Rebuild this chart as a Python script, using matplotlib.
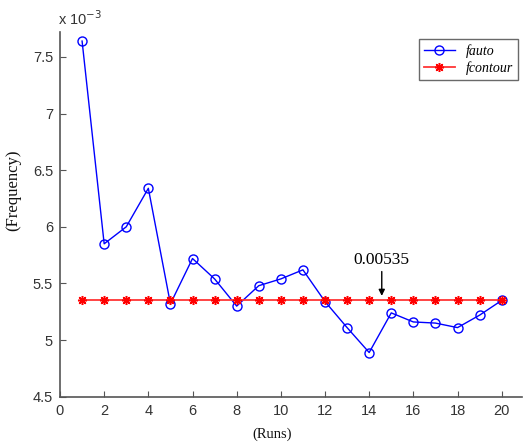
import matplotlib
matplotlib.use("Agg")
import matplotlib.pyplot as plt

# Data (frequency values in units of 1e-3)
runs = list(range(1, 21))
f_auto = [7.64, 5.85, 6.00, 6.34, 5.32, 5.72, 5.54, 5.30, 5.48, 5.54,
          5.62, 5.34, 5.11, 4.89, 5.24, 5.16, 5.15, 5.11, 5.22, 5.35]
f_contour = [5.35] * 20
x_ticks = [0, 2, 4, 6, 8, 10, 12, 14, 16, 18, 20]
y_ticks = [4.5, 5, 5.5, 6, 6.5, 7, 7.5]
annot_label = "0.00535"

fig = plt.figure(figsize=(5.27, 4.42), dpi=100)
ax = fig.add_axes([60/527, 1-396.7/442, 462/527, (396.7-32)/442])

ax.plot(runs, f_auto, color='#0000ff', lw=1.0, marker='o', ms=6.5,
        mfc='none', mec='#0000ff', mew=1.0, label='fauto', zorder=3)
ax.plot(runs, f_contour, color='#ff3535', lw=1.3, marker=(8, 2, 0), ms=6.5,
        mfc='#ff0000', mec='#ff0000', mew=1.1, label='fcontour', zorder=4)

ax.set_xlim(0, 20.92)
ax.set_ylim(4.5, 7.72)
ax.set_xticks(x_ticks)
ax.set_yticks(y_ticks)
ax.set_yticklabels(['4.5', '5', '5.5', '6', '6.5', '7', '7.5'])

for s in ['top', 'right']:
    ax.spines[s].set_visible(False)
for s in ['left', 'bottom']:
    ax.spines[s].set_color('#555555')
    ax.spines[s].set_linewidth(1.2)
ax.tick_params(direction='in', length=4, width=0.8, colors='#555555',
               labelcolor='#333333', labelsize=10.5, pad=5)
for lbl in ax.get_xticklabels() + ax.get_yticklabels():
    lbl.set_fontfamily('Liberation Sans')

ax.set_xlabel('(Runs)', family='Liberation Serif', fontsize=10.5, color='#111111')
ax.xaxis.set_label_coords(0.46, -0.085)
ax.set_ylabel('(Frequency)', family='Liberation Serif', fontsize=12, color='#111111')
ax.yaxis.set_label_coords(-0.083, 0.567)

ax.text(-0.005, 1.012, r'x 10$^{-3}$', transform=ax.transAxes, fontsize=10.5,
        family='Liberation Sans', color='#333333', ha='left', va='bottom')

ax.annotate('', xy=(14.57, 5.39), xytext=(14.57, 5.605),
            arrowprops=dict(arrowstyle='-|>', color='black', lw=1.0,
                            mutation_scale=9, shrinkA=0, shrinkB=0))
ax.text(14.57, 5.71, annot_label, family='Liberation Serif', fontsize=12.5,
        ha='center', va='center', color='black')

leg = ax.legend(loc='upper right', bbox_to_anchor=(0.991, 0.981),
                prop={'family': 'Liberation Serif', 'style': 'italic', 'size': 10},
                frameon=True, fancybox=False, borderpad=0.35, handlelength=2.2,
                labelspacing=0.25, borderaxespad=0)
leg.get_frame().set_edgecolor('#444444')
leg.get_frame().set_linewidth(1.0)

fig.savefig('out.png', dpi=100)
